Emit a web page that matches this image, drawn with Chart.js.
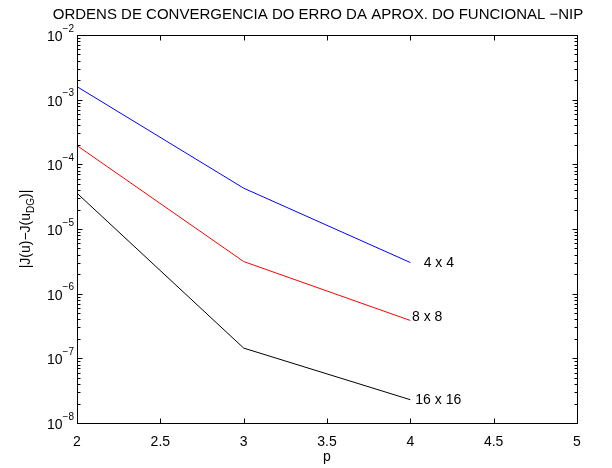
<!DOCTYPE html>
<html>
<head>
<meta charset="utf-8">
<script src="https://cdn.jsdelivr.net/npm/chart.js@4"></script>
<style>
  body { margin: 0; background: #fff; }
  canvas { display: block; }
</style>
</head>
<body>
<canvas id="chart" width="612" height="468"></canvas>
<script>
const pValues = [2, 3, 4];
const err4x4 = [1.59e-3, 4.28e-5, 3.03e-6];
const err8x8 = [1.95e-4, 3.14e-6, 3.85e-7];
const err16x16 = [3.58e-5, 1.44e-7, 2.29e-8];
const seriesNames = ['4 x 4', '8 x 8', '16 x 16'];
const seriesColors = ['#0000ff', '#ff0000', '#000000'];
// where the text labels sit, in data units
const labelP = [4.08, 4.01, 4.03];
const labelErr = [3.0e-6, 4.28e-7, 2.29e-8];
const xTicks = [2, 2.5, 3, 3.5, 4, 4.5, 5];
const yExponents = [-8, -7, -6, -5, -4, -3, -2];

const FONT = '"Liberation Sans", Arial, Helvetica, sans-serif';

function toPoints(values) {
  return pValues.map((p, i) => ({ x: p, y: values[i] }));
}

// frame, inward ticks, tick labels and texts drawn like the matlab figure
const matlabAxes = {
  id: 'matlabAxes',
  afterDraw(chart) {
    const { ctx, chartArea: a, scales } = chart;
    const xs = scales.x, ys = scales.y;
    const L = Math.round(a.left) + 0.5, R = Math.round(a.right) + 0.5;
    const T = Math.round(a.top) + 0.5, B = Math.round(a.bottom) + 0.5;

    ctx.save();
    ctx.strokeStyle = '#000';
    ctx.lineWidth = 1;
    ctx.strokeRect(L, T, R - L, B - T);

    ctx.beginPath();
    xTicks.forEach(v => {
      const px = Math.round(xs.getPixelForValue(v)) + 0.5;
      ctx.moveTo(px, B); ctx.lineTo(px, B - 5);
      ctx.moveTo(px, T); ctx.lineTo(px, T + 5);
    });
    yExponents.forEach(e => {
      const py = Math.round(ys.getPixelForValue(Math.pow(10, e))) + 0.5;
      ctx.moveTo(L, py); ctx.lineTo(L + 5, py);
      ctx.moveTo(R, py); ctx.lineTo(R - 5, py);
      if (e < -2) {
        for (let m = 2; m <= 9; m++) {
          const my = Math.round(ys.getPixelForValue(m * Math.pow(10, e))) + 0.5;
          ctx.moveTo(L, my); ctx.lineTo(L + 3, my);
          ctx.moveTo(R, my); ctx.lineTo(R - 3, my);
        }
      }
    });
    ctx.stroke();

    ctx.fillStyle = '#000';
    // x tick labels
    ctx.font = '14px ' + FONT;
    ctx.textAlign = 'center';
    ctx.textBaseline = 'alphabetic';
    xTicks.forEach(v => {
      ctx.fillText(String(v), xs.getPixelForValue(v), 446);
    });
    ctx.fillText('p', (a.left + a.right) / 2, 461);

    // y tick labels 10^e
    yExponents.forEach(e => {
      const py = ys.getPixelForValue(Math.pow(10, e));
      const expo = '\u2212' + Math.abs(e);
      ctx.font = '10px ' + FONT;
      const ew = ctx.measureText(expo).width;
      ctx.textAlign = 'left';
      ctx.textBaseline = 'middle';
      const right = a.left - 3;
      ctx.fillText(expo, right - ew, py - 6);
      ctx.font = '14px ' + FONT;
      ctx.textAlign = 'right';
      ctx.fillText('10', right - ew, py + 2);
    });

    // y axis label with subscript
    ctx.save();
    ctx.translate(30, (a.top + a.bottom) / 2);
    ctx.rotate(-Math.PI / 2);
    ctx.textBaseline = 'alphabetic';
    ctx.textAlign = 'left';
    const p1 = '|J(u)\u2212J(u', sub = 'DG', p2 = ')|';
    ctx.font = '14px ' + FONT;
    const w1 = ctx.measureText(p1).width, w3 = ctx.measureText(p2).width;
    ctx.font = '10px ' + FONT;
    const w2 = ctx.measureText(sub).width;
    let cx = -(w1 + w2 + w3) / 2;
    ctx.font = '14px ' + FONT;
    ctx.fillText(p1, cx, 0);
    cx += w1;
    ctx.font = '10px ' + FONT;
    ctx.fillText(sub, cx, 4);
    cx += w2;
    ctx.font = '14px ' + FONT;
    ctx.fillText(p2, cx, 0);
    ctx.restore();

    // title
    ctx.font = '15px ' + FONT;
    ctx.textAlign = 'center';
    ctx.textBaseline = 'alphabetic';
    ctx.fillText('ORDENS DE CONVERGENCIA DO ERRO DA APROX. DO FUNCIONAL \u2212NIP', 318, 19);

    // series labels
    ctx.font = '14px ' + FONT;
    ctx.textAlign = 'left';
    ctx.textBaseline = 'middle';
    seriesNames.forEach((name, i) => {
      ctx.fillText(name, xs.getPixelForValue(labelP[i]), ys.getPixelForValue(labelErr[i]));
    });
    ctx.restore();
  }
};

new Chart(document.getElementById('chart'), {
  type: 'line',
  data: {
    datasets: [err4x4, err8x8, err16x16].map((vals, i) => ({
      label: seriesNames[i],
      data: toPoints(vals),
      borderColor: seriesColors[i],
      borderWidth: 1,
      pointRadius: 0,
      tension: 0,
      fill: false
    }))
  },
  options: {
    responsive: false,
    devicePixelRatio: 1,
    animation: false,
    layout: { padding: { left: 77, right: 35, top: 35, bottom: 45 } },
    plugins: { legend: { display: false }, tooltip: { enabled: false }, title: { display: false } },
    scales: {
      x: { type: 'linear', min: 2, max: 5, display: false },
      y: { type: 'logarithmic', min: 1e-8, max: 1e-2, display: false }
    }
  },
  plugins: [matlabAxes]
});
</script>
</body>
</html>
